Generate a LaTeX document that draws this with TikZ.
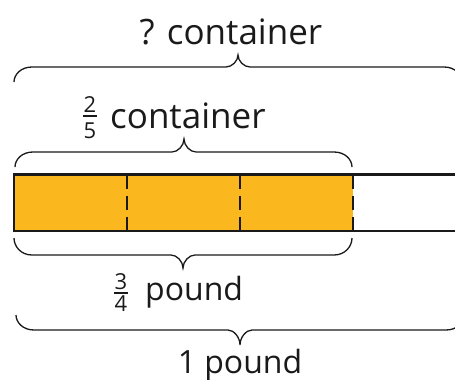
\documentclass[tikz,border=0pt]{standalone}
\usepackage{fontspec}
\setmainfont{Open Sans}
\definecolor{barorange}{HTML}{FBB81E}
\definecolor{ink}{HTML}{1A1A1A}
\newcommand\cbrace[6]{% x1, x2, yEnd, yLine, yTip, xMid
  \pgfmathsetmacro\bEa{#1+18}\pgfmathsetmacro\bEb{#2-18}%
  \pgfmathsetmacro\bCa{#1+7}\pgfmathsetmacro\bCb{#2-7}%
  \pgfmathsetmacro\bMy{0.5*(#3)+0.5*(#4)}%
  \pgfmathsetmacro\bTa{#6-12}\pgfmathsetmacro\bTb{#6+12}%
  \pgfmathsetmacro\bTca{#6-6}\pgfmathsetmacro\bTcb{#6+6}%
  \pgfmathsetmacro\bTy{0.5*(#4)+0.5*(#5)}%
  \draw[bracestyle] (#1,#3) .. controls (#1,\bMy) and (\bCa,#4) .. (\bEa,#4)
    -- (\bTa,#4) .. controls (\bTca,#4) and (#6,\bTy) .. (#6,#5)
    .. controls (#6,\bTy) and (\bTcb,#4) .. (\bTb,#4)
    -- (\bEb,#4) .. controls (\bCb,#4) and (#2,\bMy) .. (#2,#3);}
\begin{document}
\begin{tikzpicture}[x=1pt,y=-1pt,
  bracestyle/.style={draw=ink,line width=1.3pt},
  lbl/.style={inner sep=0pt,anchor=base,text=ink,font=\fontsize{32}{36}\selectfont},
  biglbl/.style={lbl,font=\fontsize{35}{40}\selectfont},
  digit/.style={inner sep=0pt,anchor=base,text=ink,font=\fontsize{22}{24}\selectfont},
  fracbar/.style={draw=ink,line width=1.3pt},
  barline/.style={draw=ink,line width=2.5pt},
  divider/.style={draw=ink,line width=2pt,dash pattern=on 14pt off 7pt}]
\useasboundingbox (0,0) rectangle (455,380);
\clip (0,0) rectangle (455,380);
% bar
\fill[barorange] (14,174) rectangle (352.7,231);
\coordinate (tl) at (14,174.5);
\coordinate (bl) at (14,231);
\coordinate (tr) at (480,174.5);
\coordinate (br) at (480,231);
\draw[barline] (tr) -- (tl) -- (bl) -- (br);
\foreach \x/\n in {127/a,240/b,352.7/c}{
  \coordinate (d\n t) at (\x,174.5);
  \coordinate (d\n b) at (\x,231);
  \draw[divider] (d\n t) -- (d\n b);
}
% braces
\cbrace{14}{462}{82}{67}{55}{238}
\cbrace{15}{352}{167}{152}{139}{184}
\cbrace{14}{352}{238}{255}{268}{183}
\cbrace{16}{464}{315}{330}{345}{240}
% labels
\node[biglbl] (top) at (231,44) {? container};
\node[digit] (n1) at (90,112) {2};
\draw[fracbar] (83,116) -- (97,116);
\node[digit] (d1) at (90,138) {5};
\node[biglbl,anchor=base west] (mid) at (110,128) {container};
\node[digit] (n2) at (121,289) {3};
\draw[fracbar] (114,293) -- (128,293);
\node[digit] (d2) at (121,311) {4};
\node[lbl,anchor=base west] (low) at (145,300) {pound};
\node[lbl] (bot) at (240,373) {1 pound};
\end{tikzpicture}
\end{document}
